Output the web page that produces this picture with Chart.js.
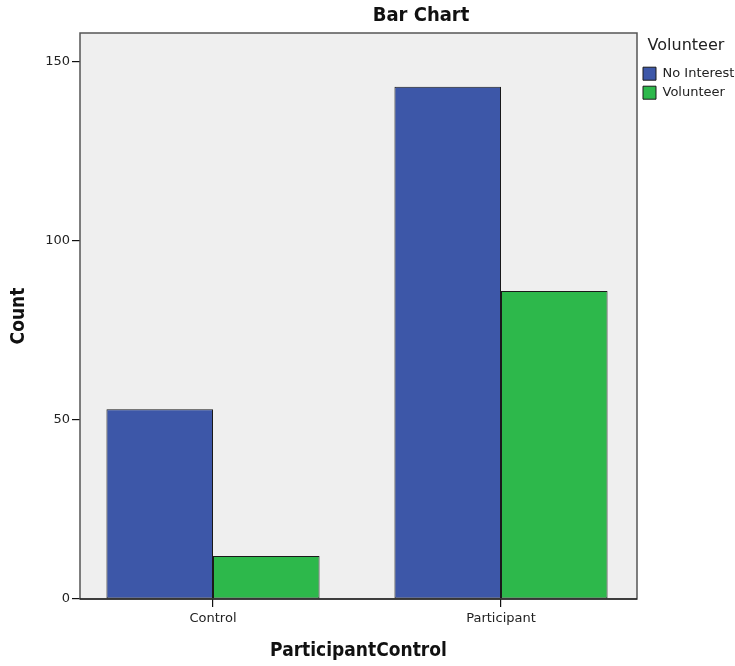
<!DOCTYPE html>
<html>
<head>
<meta charset="utf-8">
<script src="https://cdn.jsdelivr.net/npm/chart.js@4.4.1/dist/chart.umd.min.js"></script>
<style>
html,body{margin:0;padding:0;background:#fff;}
#wrap{width:735px;height:666px;}
</style>
</head>
<body>
<div id="wrap"><canvas id="c" width="735" height="666"></canvas></div>
<script>
const categories = ['Control', 'Participant'];
const seriesNames = ['No Interest', 'Volunteer'];
const noInterest = [53, 143];
const volunteer = [12, 86];
const yTicks = [0, 50, 100, 150];

const colors = ['#3D57A8', '#2DB84B'];

const framePlugin = {
  id: 'frame',
  beforeDatasetsDraw(chart) {
    const a = chart.chartArea, ctx = chart.ctx;
    ctx.save();
    ctx.fillStyle = '#EFEFEF';
    ctx.fillRect(a.left, a.top, a.right - a.left, a.bottom - a.top);
    ctx.restore();
  },
  afterDatasetsDraw(chart) {
    const a = chart.chartArea, ctx = chart.ctx;
    ctx.save();
    ctx.strokeStyle = '#555';
    ctx.lineWidth = 1.5;
    ctx.strokeRect(a.left, a.top, a.right - a.left, a.bottom - a.top);
    ctx.strokeStyle = '#000';
    ctx.lineWidth = 1.2;
    ctx.beginPath();
    ctx.moveTo(a.left, a.bottom);
    ctx.lineTo(a.right, a.bottom);
    ctx.stroke();
    ctx.restore();
  },
  afterDraw(chart) {
    const ctx = chart.ctx;
    ctx.save();
    ctx.fillStyle = '#111';
    ctx.font = 'bold 20px "DejaVu Sans Condensed", "DejaVu Sans"';
    ctx.textAlign = 'center';
    ctx.textBaseline = 'middle';
    ctx.fillText('Bar Chart', 421, 16);
    ctx.restore();
  }
};

new Chart(document.getElementById('c'), {
  type: 'bar',
  data: {
    datasets: [
      {
        label: seriesNames[0],
        data: noInterest.map((v, i) => ({ x: i, y: v })),
        backgroundColor: colors[0],
        borderColor: '#1a1a1a',
        borderWidth: 1,
        borderSkipped: false
      },
      {
        label: seriesNames[1],
        data: volunteer.map((v, i) => ({ x: i, y: v })),
        backgroundColor: colors[1],
        borderColor: '#1a1a1a',
        borderWidth: 1,
        borderSkipped: false
      }
    ]
  },
  options: {
    responsive: false,
    animation: false,
    devicePixelRatio: 1,
    layout: { padding: { top: 33, left: 8, right: 0, bottom: 4 } },
    datasets: { bar: { categoryPercentage: 0.74, barPercentage: 1.0 } },
    plugins: {
      title: { display: false },
      tooltip: { enabled: false },
      legend: {
        position: 'right',
        align: 'start',
        maxWidth: 98,
        title: {
          display: true,
          text: 'Volunteer',
          color: '#222',
          font: { family: '"DejaVu Sans"', size: 16 },
          padding: { top: 5, bottom: 4 }
        },
        labels: {
          boxWidth: 13,
          boxHeight: 13,
          padding: 6,
          color: '#222',
          font: { family: '"DejaVu Sans"', size: 13 }
        }
      }
    },
    scales: {
      x: {
        type: 'linear',
        min: -0.4618,
        max: 1.4722,
        offset: false,
        afterBuildTicks(scale) { scale.ticks = categories.map((c, i) => ({ value: i })); },
        afterFit(scale) { scale.height = 666 - 599 - 4; },
        ticks: {
          callback: (v) => categories[v],
          color: '#222',
          font: { family: '"DejaVu Sans"', size: 13 },
          padding: 4,
          maxRotation: 0,
          autoSkip: false
        },
        grid: { display: true, offset: false, drawOnChartArea: false, drawTicks: true, tickLength: 8, color: '#111', lineWidth: 1.2 },
        border: { display: false },
        title: {
          display: true,
          text: 'ParticipantControl',
          color: '#111',
          font: { family: '"DejaVu Sans Condensed", "DejaVu Sans"', size: 19, weight: 'bold' },
          padding: { top: 6, bottom: 0 }
        }
      },
      y: {
        min: 0,
        max: 158,
        afterBuildTicks(scale) { scale.ticks = yTicks.map(v => ({ value: v })); },
        afterFit(scale) { scale.width = 80 - 8; },
        ticks: {
          color: '#222',
          font: { family: '"DejaVu Sans"', size: 13 },
          padding: 2
        },
        grid: { display: true, offset: false, drawOnChartArea: false, drawTicks: true, tickLength: 8, color: '#111', lineWidth: 1.2 },
        border: { display: false },
        title: {
          display: true,
          text: 'Count',
          color: '#111',
          font: { family: '"DejaVu Sans Condensed", "DejaVu Sans"', size: 19, weight: 'bold' },
          padding: { top: 0, bottom: 2 }
        }
      }
    }
  },
  plugins: [framePlugin]
});
</script>
</body>
</html>
